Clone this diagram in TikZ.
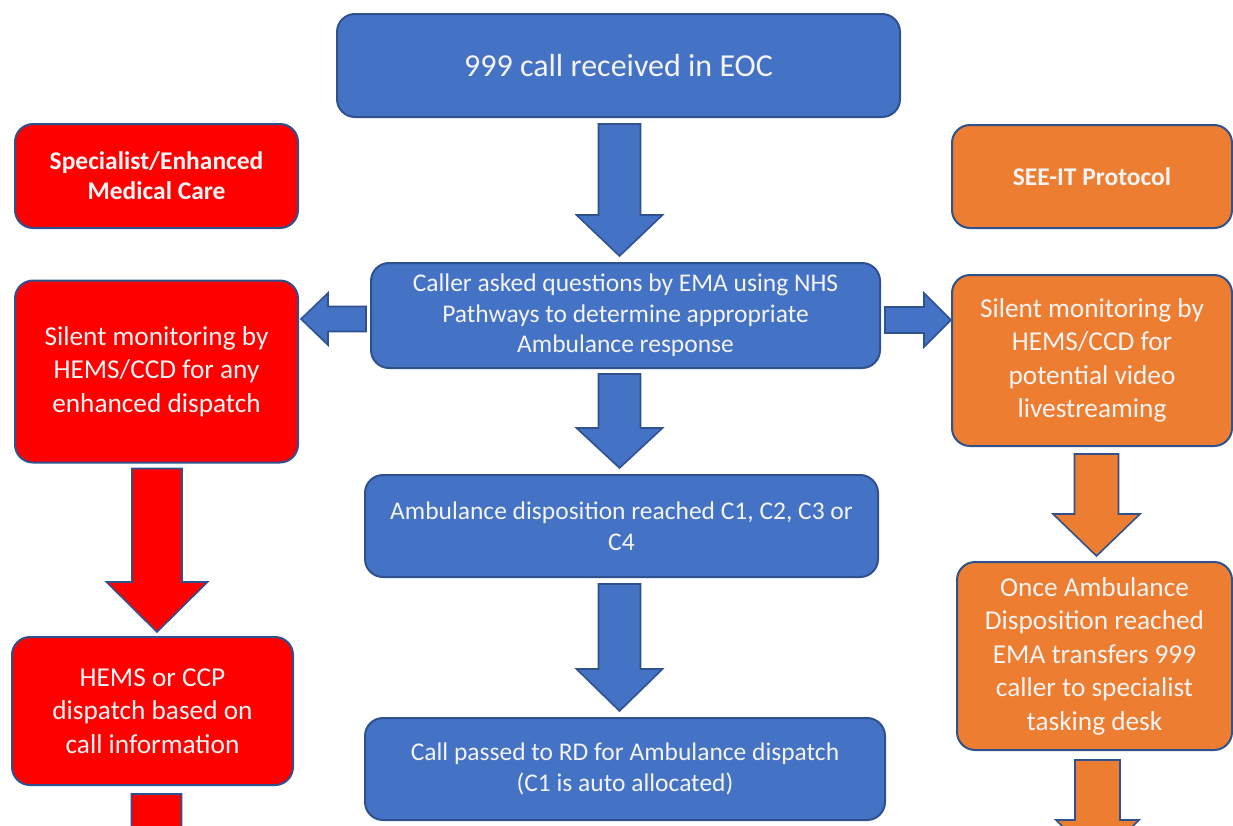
\documentclass[tikz,border=0pt]{standalone}
\usepackage{fontspec}
\setmainfont{Carlito}
\usetikzlibrary{calc}
\definecolor{bfill}{HTML}{4472C4}
\definecolor{bline}{HTML}{2F528F}
\definecolor{rfill}{HTML}{FF0000}
\definecolor{ofill}{HTML}{ED7D31}
\definecolor{btext}{HTML}{F4F4F4}
\tikzset{
  box/.style={draw=bline, line width=2pt, rounded corners=18pt, text=btext, align=center, inner sep=0pt},
  bluebox/.style={box, fill=bfill},
  redbox/.style={box, fill=rfill},
  orangebox/.style={box, fill=ofill},
  bigtxt/.style={font=\fontsize{32}{38}\selectfont},
  midtxt/.style={font=\fontsize{25.5}{30.5}\selectfont},
  sidetxt/.style={font=\fontsize{27.3}{33.5}\selectfont},
  headtxt/.style={font=\fontsize{25.5}{30}\selectfont\bfseries},
  arrowbase/.style={draw=bline, line width=1.6pt, line join=miter},
  bluearrow/.style={arrowbase, fill=bfill},
  redarrow/.style={arrowbase, fill=rfill},
  orangearrow/.style={arrowbase, fill=ofill},
}
% vertical block arrow: style, top point, tip point, shaft half, head half, head length
\newcommand{\vblock}[6]{%
  \path[#1] let \p1=#2, \p2=#3 in
    (\x1-#4,\y1) -- (\x1+#4,\y1) -- (\x1+#4,\y2+#6) -- (\x1+#5,\y2+#6) --
    (\x1,\y2) -- (\x1-#5,\y2+#6) -- (\x1-#4,\y2+#6) -- cycle;}
% leftward block arrow: style, tail point, tip point, shaft half, head half, head length
\newcommand{\lblock}[6]{%
  \path[#1] let \p1=#2, \p2=#3 in
    (\x1,\y1+#4) -- (\x2+#6,\y1+#4) -- (\x2+#6,\y1+#5) -- (\x2,\y1) --
    (\x2+#6,\y1-#5) -- (\x2+#6,\y1-#4) -- (\x1,\y1-#4) -- cycle;}
% rightward block arrow
\newcommand{\rblock}[6]{%
  \path[#1] let \p1=#2, \p2=#3 in
    (\x1,\y1+#4) -- (\x2-#6,\y1+#4) -- (\x2-#6,\y1+#5) -- (\x2,\y1) --
    (\x2-#6,\y1-#5) -- (\x2-#6,\y1-#4) -- (\x1,\y1-#4) -- cycle;}
\begin{document}
\begin{tikzpicture}[x=1pt,y=-1pt]
\useasboundingbox (0,0) rectangle (1233,825);
\clip (0,0) rectangle (1233,825);
\fill[white] (0,0) rectangle (1233,825);

% nodes
\node[bluebox, bigtxt, minimum width=563, minimum height=103] (eoc) at (618.5,65.5) {999 call received in EOC};
\node[redbox, headtxt, minimum width=283, minimum height=104] (spec) at (156.5,176) {Specialist/Enhanced\\Medical Care};
\node[orangebox, headtxt, minimum width=280, minimum height=103] (seeit) at (1092,176.5) {SEE-IT Protocol};
\node[bluebox, midtxt, minimum width=509, minimum height=105] (caller) at (625.5,315.5) {Caller asked questions by EMA using NHS\\Pathways to determine appropriate\\Ambulance response};
\node[redbox, sidetxt, minimum width=283, minimum height=182] (rsil) at (156.5,371.5) {Silent monitoring by\\HEMS/CCD for any\\enhanced dispatch};
\node[orangebox, sidetxt, minimum width=280, minimum height=171] (osil) at (1092,360.5) {Silent monitoring by\\HEMS/CCD for\\potential video\\livestreaming};
\node[bluebox, midtxt, minimum width=513, minimum height=102] (disp) at (621.5,526) {Ambulance disposition reached C1, C2, C3 or\\C4};
\node[bluebox, midtxt, minimum width=520, minimum height=102] (passed) at (625,769) {Call passed to RD for Ambulance dispatch\\(C1 is auto allocated)};
\node[redbox, sidetxt, minimum width=281, minimum height=148] (hems) at (152.5,711) {HEMS or CCP\\dispatch based on\\call information};
\node[orangebox, sidetxt, minimum width=275, minimum height=188] (once) at (1094.5,656) {Once Ambulance\\Disposition reached\\EMA transfers 999\\caller to specialist\\tasking desk};

\coordinate (redend) at (156.5,885);
\coordinate (orangeend) at (1097.5,862);

% block arrows
\vblock{bluearrow}{($(eoc.south)+(1,6)$)}{($(caller.north)+(0,-6)$)}{21pt}{43pt}{41pt}
\vblock{bluearrow}{($(caller.south)+(-6,5)$)}{($(disp.north)+(0,-6)$)}{21pt}{43pt}{40pt}
\vblock{bluearrow}{($(disp.south)+(-2,6)$)}{($(passed.north)+(0,-6)$)}{21pt}{43pt}{42pt}
\lblock{bluearrow}{($(caller.west)+(-4,3.5)$)}{($(rsil.east)+(2,0)$)}{12.5pt}{26pt}{27pt}
\rblock{bluearrow}{($(caller.east)+(4,4.5)$)}{($(osil.west)+(0,0)$)}{13pt}{27pt}{27pt}
\vblock{redarrow}{($(rsil.south)+(0.5,5)$)}{($(hems.north)+(0,-4)$)}{25pt}{50.5pt}{50pt}
\vblock{redarrow}{($(hems.south)+(4,8)$)}{(redend)}{25pt}{50.5pt}{50pt}
\vblock{orangearrow}{($(osil.south)+(4.5,7)$)}{($(once.north)+(0,-5)$)}{22pt}{43.5pt}{42pt}
\vblock{orangearrow}{($(once.south)+(3,9)$)}{(orangeend)}{22.5pt}{41.5pt}{42pt}
\end{tikzpicture}
\end{document}
